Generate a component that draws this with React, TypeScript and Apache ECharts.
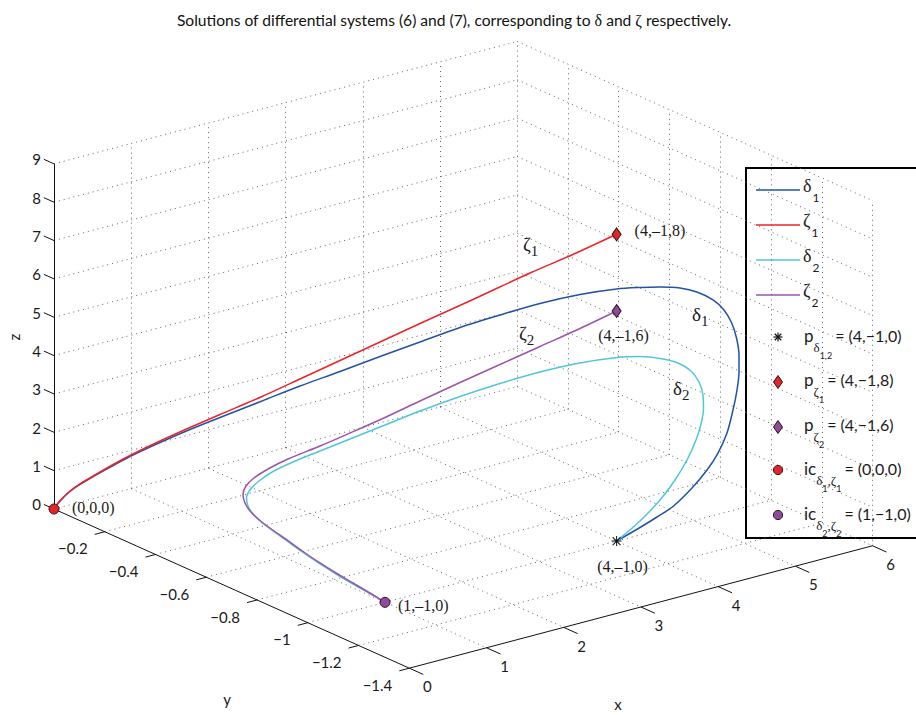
import React, { useEffect, useRef } from "react";
import * as echarts from "echarts";

type P3 = [number, number, number];

// ---------------- data ----------------
const X_TICKS = [0, 1, 2, 3, 4, 5, 6];
const X_TICK_LABELS = ["0", "1", "2", "3", "4", "5", "6"];
const Y_TICKS = [-0.2, -0.4, -0.6, -0.8, -1, -1.2, -1.4];
const Y_TICK_LABELS = ["−0.2", "−0.4", "−0.6", "−0.8", "−1", "−1.2", "−1.4"];
const Z_TICKS = [0, 1, 2, 3, 4, 5, 6, 7, 8, 9];
const Z_TICK_LABELS = ["0", "1", "2", "3", "4", "5", "6", "7", "8", "9"];
const X_LIMITS: [number, number] = [0, 6];
const Y_LIMITS: [number, number] = [-1.4, 0];
const Z_LIMITS: [number, number] = [0, 9];

// solution delta_1 (x, y, z)
const DELTA_1: P3[] = [
  [0, 0, 0], [0.0284, -0.0071, 0.149], [0.064, -0.016, 0.3], [0.1138, -0.0284, 0.48],
  [0.1849, -0.0462, 0.678], [0.2915, -0.0729, 0.934], [0.4337, -0.1084, 1.251],
  [0.5617, -0.1404, 1.526], [0.7536, -0.1884, 1.892], [0.9669, -0.2417, 2.275],
  [1.1802, -0.2951, 2.633], [1.4789, -0.3697, 3.126], [1.749, -0.4373, 3.573],
  [2.0334, -0.5084, 4.011], [2.3178, -0.5795, 4.462], [2.6022, -0.6506, 4.899],
  [2.8866, -0.7217, 5.337], [3.171, -0.7928, 5.722], [3.4554, -0.8639, 6.082],
  [3.7398, -0.935, 6.376], [4.0, -1, 6.574], [4.3031, -1, 6.452], [4.5622, -1, 6.327],
  [4.8212, -1, 6.163], [5.0415, -1, 5.941], [5.2487, -1, 5.623], [5.3912, -1, 5.286],
  [5.491, -1, 4.894], [5.5531, -1, 4.47], [5.5855, -1, 4.009], [5.5855, -1, 3.566],
  [5.5596, -1, 3.11], [5.5078, -1, 2.616], [5.43, -1, 2.058], [5.3135, -1, 1.598],
  [5.171, -1, 1.231], [4.9767, -1, 0.865], [4.7306, -1, 0.514], [4.5233, -1, 0.35],
  [4.3031, -1, 0.193], [4, -1, 0],
];
// solution zeta_1
const ZETA_1: P3[] = [
  [0, 0, 0], [0.0284, -0.0071, 0.162], [0.064, -0.016, 0.313], [0.1138, -0.0284, 0.493],
  [0.1849, -0.0462, 0.691], [0.2915, -0.0729, 0.948], [0.4337, -0.1084, 1.277],
  [0.5617, -0.1404, 1.552], [0.7536, -0.1884, 1.931], [0.9669, -0.2417, 2.328],
  [1.1802, -0.2951, 2.711], [1.4789, -0.3697, 3.243], [1.749, -0.4373, 3.756],
  [2.2254, -0.5564, 4.664], [2.6022, -0.6506, 5.381], [2.979, -0.7448, 6.086],
  [3.3843, -0.8461, 6.862], [3.7042, -0.9261, 7.437], [4, -1, 8],
];
// solution delta_2
const DELTA_2: P3[] = [
  [1, -1, 0], [0.907, -0.9653, 0.189], [0.8135, -0.9307, 0.371], [0.7144, -0.8938, 0.575],
  [0.6211, -0.8591, 0.783], [0.522, -0.8223, 1.026], [0.4288, -0.7876, 1.273],
  [0.3471, -0.7573, 1.487], [0.283, -0.7335, 1.672], [0.2306, -0.714, 1.864],
  [0.2014, -0.7031, 2.056], [0.1927, -0.6999, 2.259], [0.2131, -0.7075, 2.48],
  [0.2656, -0.727, 2.744], [0.3471, -0.7573, 3.038], [0.4637, -0.8006, 3.353],
  [0.6211, -0.8591, 3.729], [0.796, -0.9242, 4.142], [1, -1, 4.623], [1.453, -1, 4.747],
  [1.9715, -1, 4.85], [2.4896, -1, 4.913], [3.0078, -1, 4.937], [3.5259, -1, 4.896],
  [4.0052, -1, 4.785], [4.3031, -1, 4.652], [4.5622, -1, 4.462], [4.7953, -1, 4.221],
  [4.9637, -1, 3.923], [5.0674, -1, 3.581], [5.1192, -1, 3.214], [5.1256, -1, 2.846],
  [5.0933, -1, 2.472], [5.0285, -1, 2.089], [4.9119, -1, 1.63], [4.7565, -1, 1.191],
  [4.5622, -1, 0.773], [4.3031, -1, 0.363], [4, -1, 0],
];
// solution zeta_2
const ZETA_2: P3[] = [
  [1, -1, 0], [0.907, -0.9653, 0.202], [0.8135, -0.9307, 0.397], [0.7144, -0.8938, 0.601],
  [0.6211, -0.8591, 0.809], [0.522, -0.8223, 1.052], [0.4288, -0.7876, 1.299],
  [0.3413, -0.7551, 1.523], [0.2714, -0.7291, 1.717], [0.2131, -0.7075, 1.932],
  [0.181, -0.6956, 2.149], [0.1723, -0.6923, 2.352], [0.1898, -0.6988, 2.571],
  [0.2364, -0.7161, 2.806], [0.318, -0.7465, 3.087], [0.4346, -0.7898, 3.414],
  [0.6211, -0.8591, 3.859], [0.796, -0.9242, 4.298], [1, -1, 4.819], [1.453, -1, 5.008],
  [1.9715, -1, 5.215], [2.4896, -1, 5.408], [3.0078, -1, 5.602], [3.5259, -1, 5.796],
  [4, -1, 6],
];

const P_DELTA: P3 = [4, -1, 0];
const P_ZETA_1: P3 = [4, -1, 8];
const P_ZETA_2: P3 = [4, -1, 6];
const IC_1: P3 = [0, 0, 0];
const IC_2: P3 = [1, -1, 0];

// ---------------- view / style ----------------
const W = 916;
const H = 715;
const ORIGIN = [54, 509];
const EX = [77.2, -20.4];
const EY = [-253.8, -113.7];
const EZ = [0, -38.35];
const proj = (p: P3): [number, number] => [
  ORIGIN[0] + p[0] * EX[0] + p[1] * EY[0] + p[2] * EZ[0],
  ORIGIN[1] + p[0] * EX[1] + p[1] * EY[1] + p[2] * EZ[1],
];

const SANS = "Lato";
const SERIF = "Liberation Serif";
const C_D1 = "#2253a6";
const C_Z1 = "#ec2428";
const C_D2 = "#4fc7d9";
const C_Z2 = "#9b54a8";
const C_Z1_FILL = "#e2252a";
const C_Z2_FILL = "#8e4a9c";
const EDGE = "#2a1414";
const STAR_PATH =
  "path://M9 0H11V20H9Z M0 9H20V11H0Z M1.4 2.8L2.8 1.4L18.6 17.2L17.2 18.6Z M17.2 1.4L18.6 2.8L2.8 18.6L1.4 17.2Z";

function buildOption() {
  const [x0, x1] = X_LIMITS;
  const [y0, y1] = Y_LIMITS;
  const [z0, z1] = Z_LIMITS;
  const seg = (a: P3, b: P3) => ({ coords: [proj(a), proj(b)] });

  // dotted grid on the back walls and the floor
  const grid: any[] = [];
  Z_TICKS.forEach((z) => grid.push(seg([x0, y1, z], [x1, y1, z])));
  X_TICKS.filter((x) => x !== x0).forEach((x) => grid.push(seg([x, y1, z0], [x, y1, z1])));
  Z_TICKS.forEach((z) => grid.push(seg([x1, y1, z], [x1, y0, z])));
  Y_TICKS.forEach((y) => grid.push(seg([x1, y, z0], [x1, y, z1])));
  X_TICKS.filter((x) => x !== x0 && x !== x1).forEach((x) => grid.push(seg([x, y1, z0], [x, y0, z0])));
  Y_TICKS.filter((y) => y !== y0).forEach((y) => grid.push(seg([x0, y, z0], [x1, y, z0])));

  // axes and ticks
  const axes: any[] = [
    seg([x0, y1, z0], [x0, y1, z1]),
    seg([x0, y1, z0], [x0, y0, z0]),
    seg([x0, y0, z0], [x1, y0, z0]),
  ];
  const X_TL = 0.055, Y_TL = 0.13, Z_TL = 0.04;
  X_TICKS.forEach((x) => axes.push(seg([x, y0, z0], [x, y0 - X_TL, z0])));
  Y_TICKS.forEach((y) => axes.push(seg([x0, y, z0], [x0 - Y_TL, y, z0])));
  Z_TICKS.forEach((z) => axes.push(seg([x0, y1, z], [x0, y1 + Z_TL, z])));

  const texts: any[] = [];
  const txt = (x: number, y: number, text: string, font: any, align = "left", va = "middle", extra: any = {}) =>
    texts.push({
      type: "text",
      x,
      y,
      silent: true,
      z: 50,
      ...extra,
      style: { text, fill: "#1a1a1a", align, verticalAlign: va, ...font },
    });
  const tickFont = { fontFamily: SANS, fontSize: 15 };
  X_TICKS.forEach((x, i) => {
    const [px, py] = proj([x, y0 - X_TL, z0]);
    txt(px + 4, py + 12, X_TICK_LABELS[i], tickFont, "center");
  });
  Y_TICKS.forEach((y, i) => {
    const [px, py] = proj([x0 - Y_TL, y, z0]);
    txt(px - 7, py + 14, Y_TICK_LABELS[i], tickFont, "right");
  });
  Z_TICKS.forEach((z, i) => {
    const [px, py] = proj([x0, y1 + Z_TL, z]);
    txt(px - 3, py, Z_TICK_LABELS[i], tickFont, "right");
  });
  txt(618, 704, "x", tickFont, "center");
  txt(227, 699, "y", tickFont, "center");
  txt(14, 337, "z", tickFont, "center", "middle", { rotation: Math.PI / 2 });

  // title
  texts.push({
    type: "text",
    x: 454,
    y: 20,
    silent: true,
    style: {
      text: "{t|Solutions of differential systems (6) and (7), corresponding to }{g|δ}{t| and }{g|ζ}{t| respectively.}",
      align: "center",
      verticalAlign: "middle",
      rich: {
        t: { fontFamily: SANS, fontSize: 15.6, fill: "#111", color: "#111" },
        g: { fontFamily: SERIF, fontSize: 16, fill: "#111", color: "#111" },
      },
    },
  });

  // point annotations
  const serif = { fontFamily: SERIF, fontSize: 16 };
  const at = (p: P3, dx: number, dy: number): [number, number] => {
    const [px, py] = proj(p);
    return [px + dx, py + dy];
  };
  let q = at(IC_1, 18, -2); txt(q[0], q[1], "(0,0,0)", serif);
  q = at(IC_2, 13, 3); txt(q[0], q[1], "(1,–1,0)", serif);
  q = at(P_ZETA_1, 18, -4); txt(q[0], q[1], "(4,–1,8)", serif);
  q = at(P_ZETA_2, 7, 24); txt(q[0], q[1], "(4,–1,6)", serif, "center");
  q = at(P_DELTA, 6, 25); txt(q[0], q[1], "(4,–1,0)", serif, "center");

  const curveLabelRich = {
    g: { fontFamily: SERIF, fontSize: 19, fill: "#1a1a1a", color: "#1a1a1a" },
    s: { fontFamily: SERIF, fontSize: 15, fill: "#1a1a1a", color: "#1a1a1a", padding: [14, 0, 0, 0] },
  };
  const curveLabel = (x: number, y: number, g: string, s: string) =>
    texts.push({
      type: "text", x, y, silent: true, z: 50,
      style: { text: `{g|${g}}{s|${s}}`, align: "left", verticalAlign: "middle", rich: curveLabelRich },
    });
  curveLabel(523, 244, "ζ", "1");
  curveLabel(519, 333, "ζ", "2");
  curveLabel(692, 314, "δ", "1");
  curveLabel(673, 388, "δ", "2");

  // legend
  const LX = 746, LY = 168, LH = 370;
  const legend: any[] = [
    { type: "rect", shape: { x: LX, y: LY, width: 200, height: LH }, style: { fill: "#fff", stroke: "#000", lineWidth: 2 } },
  ];
  const ink = { fill: "#1a1a1a", color: "#1a1a1a" };
  const legRich = {
    g: { fontFamily: SERIF, fontSize: 18, ...ink },
    s: { fontFamily: SANS, fontSize: 12, ...ink, padding: [22, 0, 0, 1] },
    m: { fontFamily: SANS, fontSize: 17, ...ink },
    e: { fontFamily: SANS, fontSize: 16, ...ink, padding: [0, 0, 0, 3] },
    d: { fontFamily: SERIF, fontSize: 13, ...ink, padding: [24, 0, 0, 0] },
    n: { fontFamily: SANS, fontSize: 9, ...ink, padding: [40, 0, 0, 0] },
  };
  const lineEntries: [string, string, string, number][] = [
    [C_D1, "δ", "1", 190],
    [C_Z1, "ζ", "1", 225],
    [C_D2, "δ", "2", 260],
    [C_Z2, "ζ", "2", 295],
  ];
  lineEntries.forEach(([c, g, s, y]) => {
    legend.push({ type: "line", shape: { x1: 756, y1: y, x2: 800, y2: y }, style: { stroke: c, lineWidth: 1.6 } });
    legend.push({ type: "text", x: 803, y: y - 4, style: { text: `{g|${g}}{s|${s}}`, align: "left", verticalAlign: "middle", rich: legRich } });
  });
  const mx = 778;
  const sy = 337, r = 4.5;
  [[0, r], [r, 0], [0.72 * r, 0.72 * r], [0.72 * r, -0.72 * r]].forEach(([dx, dy]) =>
    legend.push({ type: "line", shape: { x1: mx - dx, y1: sy - dy, x2: mx + dx, y2: sy + dy }, style: { stroke: "#111", lineWidth: 1.2 } }),
  );
  const diamond = (y: number, fill: string) =>
    legend.push({ type: "polygon", shape: { points: [[mx, y - 6.5], [mx + 4.5, y], [mx, y + 6.5], [mx - 4.5, y]] }, style: { fill, stroke: EDGE, lineWidth: 1 } });
  diamond(382, C_Z1_FILL);
  diamond(427, C_Z2_FILL);
  legend.push({ type: "circle", shape: { cx: mx, cy: 470, r: 4.6 }, style: { fill: C_Z1_FILL, stroke: EDGE, lineWidth: 1 } });
  legend.push({ type: "circle", shape: { cx: mx, cy: 515, r: 4.6 }, style: { fill: C_Z2_FILL, stroke: EDGE, lineWidth: 1 } });
  const legText = (y: number, t: string) =>
    legend.push({ type: "text", x: 804, y, style: { text: t, align: "left", verticalAlign: "middle", rich: legRich } });
  legText(335, "{m|p}{d|δ}{n|1,2}{e|= (4,−1,0)}");
  legText(379, "{m|p}{d|ζ}{n|1}{e|= (4,−1,8)}");
  legText(424, "{m|p}{d|ζ}{n|2}{e|= (4,−1,6)}");
  legText(468, "{m|ic}{d|δ}{n|1}{d|,ζ}{n|1}{e|= (0,0,0)}");
  legText(513, "{m|ic}{d|δ}{n|2}{d|,ζ}{n|2}{e|= (1,−1,0)}");

  const curve = (name: string, pts: P3[], color: string) => ({
    type: "line",
    name,
    data: pts.map(proj),
    showSymbol: false,
    smooth: 0.3,
    silent: true,
    z: 5,
    lineStyle: { color, width: 1.5 },
  });
  const marker = (name: string, p: P3, symbol: string, size: any, color: string, border = EDGE) => ({
    type: "scatter",
    name,
    data: [proj(p)],
    symbol,
    symbolSize: size,
    silent: true,
    z: 8,
    itemStyle: { color, borderColor: border, borderWidth: symbol === STAR_PATH ? 0 : 1, opacity: 1 },
  });

  return {
    animation: false,
    backgroundColor: "#fff",
    grid: { left: 0, top: 0, width: W, height: H },
    xAxis: { type: "value", min: 0, max: W, show: false },
    yAxis: { type: "value", min: 0, max: H, inverse: true, show: false },
    series: [
      {
        type: "lines",
        coordinateSystem: "cartesian2d",
        silent: true,
        z: 1,
        lineStyle: { color: "#666", width: 1, type: [1, 4], opacity: 1 },
        data: grid,
      },
      {
        type: "lines",
        coordinateSystem: "cartesian2d",
        silent: true,
        z: 2,
        lineStyle: { color: "#111", width: 1, type: "solid", opacity: 1 },
        data: axes,
      },
      curve("δ1", DELTA_1, C_D1),
      curve("ζ1", ZETA_1, C_Z1),
      curve("δ2", DELTA_2, C_D2),
      curve("ζ2", ZETA_2, C_Z2),
      marker("p_delta", P_DELTA, STAR_PATH, 10, "#111"),
      marker("p_zeta1", P_ZETA_1, "diamond", [9, 13], C_Z1_FILL),
      marker("p_zeta2", P_ZETA_2, "diamond", [9, 13], C_Z2_FILL),
      marker("ic_1", IC_1, "circle", 10, C_Z1_FILL),
      marker("ic_2", IC_2, "circle", 10, C_Z2_FILL),
    ],
    graphic: {
      elements: [...texts, { type: "group", z: 100, children: legend }],
    },
  };
}

export default function App() {
  const ref = useRef<HTMLDivElement>(null);
  useEffect(() => {
    const chart = echarts.init(ref.current!, null, { renderer: "svg" });
    chart.setOption(buildOption() as any);
    return () => chart.dispose();
  }, []);
  return (
    <div
      ref={ref}
      style={{ position: "fixed", left: 0, top: 0, width: W, height: H, background: "#fff" }}
    />
  );
}
